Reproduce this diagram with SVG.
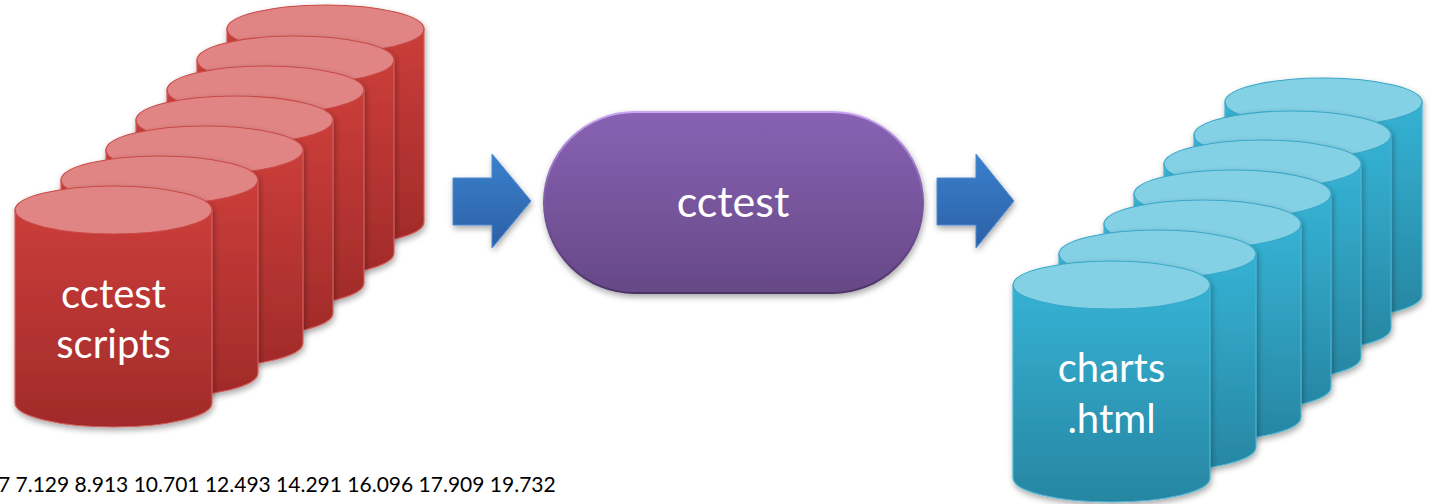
<svg xmlns="http://www.w3.org/2000/svg" xmlns:xlink="http://www.w3.org/1999/xlink" width="1430" height="504" viewBox="0 0 1430 504">
  <style>
    .label { font-family: Lato, "Open Sans", "Liberation Sans", sans-serif; fill: #ffffff; text-anchor: middle; }
    .values { font-family: Lato, "Open Sans", "Liberation Sans", sans-serif; fill: #000000; font-size: 21px; }
  </style>
  <defs>
    <linearGradient id="redBody" x1="0" y1="0" x2="0" y2="1">
      <stop offset="0" stop-color="#cb3d3a"/>
      <stop offset="1" stop-color="#a12b2a"/>
    </linearGradient>
    <linearGradient id="blueBody" x1="0" y1="0" x2="0" y2="1">
      <stop offset="0" stop-color="#35b2d4"/>
      <stop offset="1" stop-color="#2786a2"/>
    </linearGradient>
    <linearGradient id="pillFill" x1="0" y1="0" x2="0" y2="1">
      <stop offset="0" stop-color="#8862b4"/>
      <stop offset="1" stop-color="#674886"/>
    </linearGradient>
    <linearGradient id="pillRim" x1="0" y1="0" x2="0" y2="1">
      <stop offset="0" stop-color="#c9a6f2"/>
      <stop offset="0.5" stop-color="#7a58a4"/>
      <stop offset="1" stop-color="#4a3266"/>
    </linearGradient>
    <linearGradient id="arrowFill" x1="0" y1="0" x2="0" y2="1">
      <stop offset="0" stop-color="#3b80cc"/>
      <stop offset="1" stop-color="#2b60a6"/>
    </linearGradient>
    <filter id="shadow" x="-10%" y="-10%" width="125%" height="125%">
      <feGaussianBlur in="SourceAlpha" stdDeviation="3"/>
      <feOffset dx="1" dy="3" result="b"/>
      <feComponentTransfer><feFuncA type="linear" slope="0.35"/></feComponentTransfer>
      <feMerge><feMergeNode/><feMergeNode in="SourceGraphic"/></feMerge>
    </filter>
    <!-- one cylinder, 197 wide and 241 tall, drawn from its top-left corner -->
    <g id="cylRed">
      <path d="M0,24 V217 A98.5,24 0 0 0 197,217 V24 Z" fill="url(#redBody)" stroke="#d0605c" stroke-width="1.2"/>
      <ellipse cx="98.5" cy="24" rx="98.5" ry="24" fill="#e08583" stroke="#c94a47" stroke-width="1.2"/>
    </g>
    <g id="cylBlue">
      <path d="M0,24 V217 A98.5,24 0 0 0 197,217 V24 Z" fill="url(#blueBody)" stroke="#4cb4d2" stroke-width="1.2"/>
      <ellipse cx="98.5" cy="24" rx="98.5" ry="24" fill="#84d0e5" stroke="#3aa8c8" stroke-width="1.2"/>
    </g>
  </defs>

  <!-- input stack: cctest scripts -->
  <g id="scripts">
    <use xlink:href="#cylRed" x="227" y="5" filter="url(#shadow)"/>
    <use xlink:href="#cylRed" x="197" y="36" filter="url(#shadow)"/>
    <use xlink:href="#cylRed" x="167" y="66" filter="url(#shadow)"/>
    <use xlink:href="#cylRed" x="136" y="96" filter="url(#shadow)"/>
    <use xlink:href="#cylRed" x="106" y="126" filter="url(#shadow)"/>
    <use xlink:href="#cylRed" x="61" y="156" filter="url(#shadow)"/>
    <use xlink:href="#cylRed" x="15" y="186" filter="url(#shadow)"/>
    <text class="label" x="113.5" y="308" font-size="40">cctest</text>
    <text class="label" x="113.5" y="358" font-size="40">scripts</text>
  </g>

  <!-- processing step -->
  <g id="cctest">
    <rect x="544" y="112" width="379" height="181" rx="90.5" ry="90.5" fill="url(#pillFill)" stroke="url(#pillRim)" stroke-width="2" filter="url(#shadow)"/>
    <text class="label" x="733" y="217" font-size="43">cctest</text>
  </g>

  <!-- output stack: charts .html -->
  <g id="charts">
    <use xlink:href="#cylBlue" x="1225" y="78" filter="url(#shadow)"/>
    <use xlink:href="#cylBlue" x="1194" y="111" filter="url(#shadow)"/>
    <use xlink:href="#cylBlue" x="1164" y="140" filter="url(#shadow)"/>
    <use xlink:href="#cylBlue" x="1134" y="170" filter="url(#shadow)"/>
    <use xlink:href="#cylBlue" x="1104" y="200" filter="url(#shadow)"/>
    <use xlink:href="#cylBlue" x="1059" y="230" filter="url(#shadow)"/>
    <use xlink:href="#cylBlue" x="1013" y="261" filter="url(#shadow)"/>
    <text class="label" x="1111.5" y="382" font-size="40">charts</text>
    <text class="label" x="1111.5" y="433" font-size="40">.html</text>
  </g>

  <!-- flow arrows -->
  <g id="connectors" fill="url(#arrowFill)" stroke="#4a8ad4" stroke-width="1" filter="url(#shadow)">
    <polygon points="453,178 492,178 492,154 531,201 492,248 492,225 453,225"/>
    <polygon points="937,178 976,178 976,154 1014,201 976,248 976,225 937,225"/>
  </g>

  <text class="values" x="-2" y="492">7 7.129 8.913 10.701 12.493 14.291 16.096 17.909 19.732</text>
</svg>
